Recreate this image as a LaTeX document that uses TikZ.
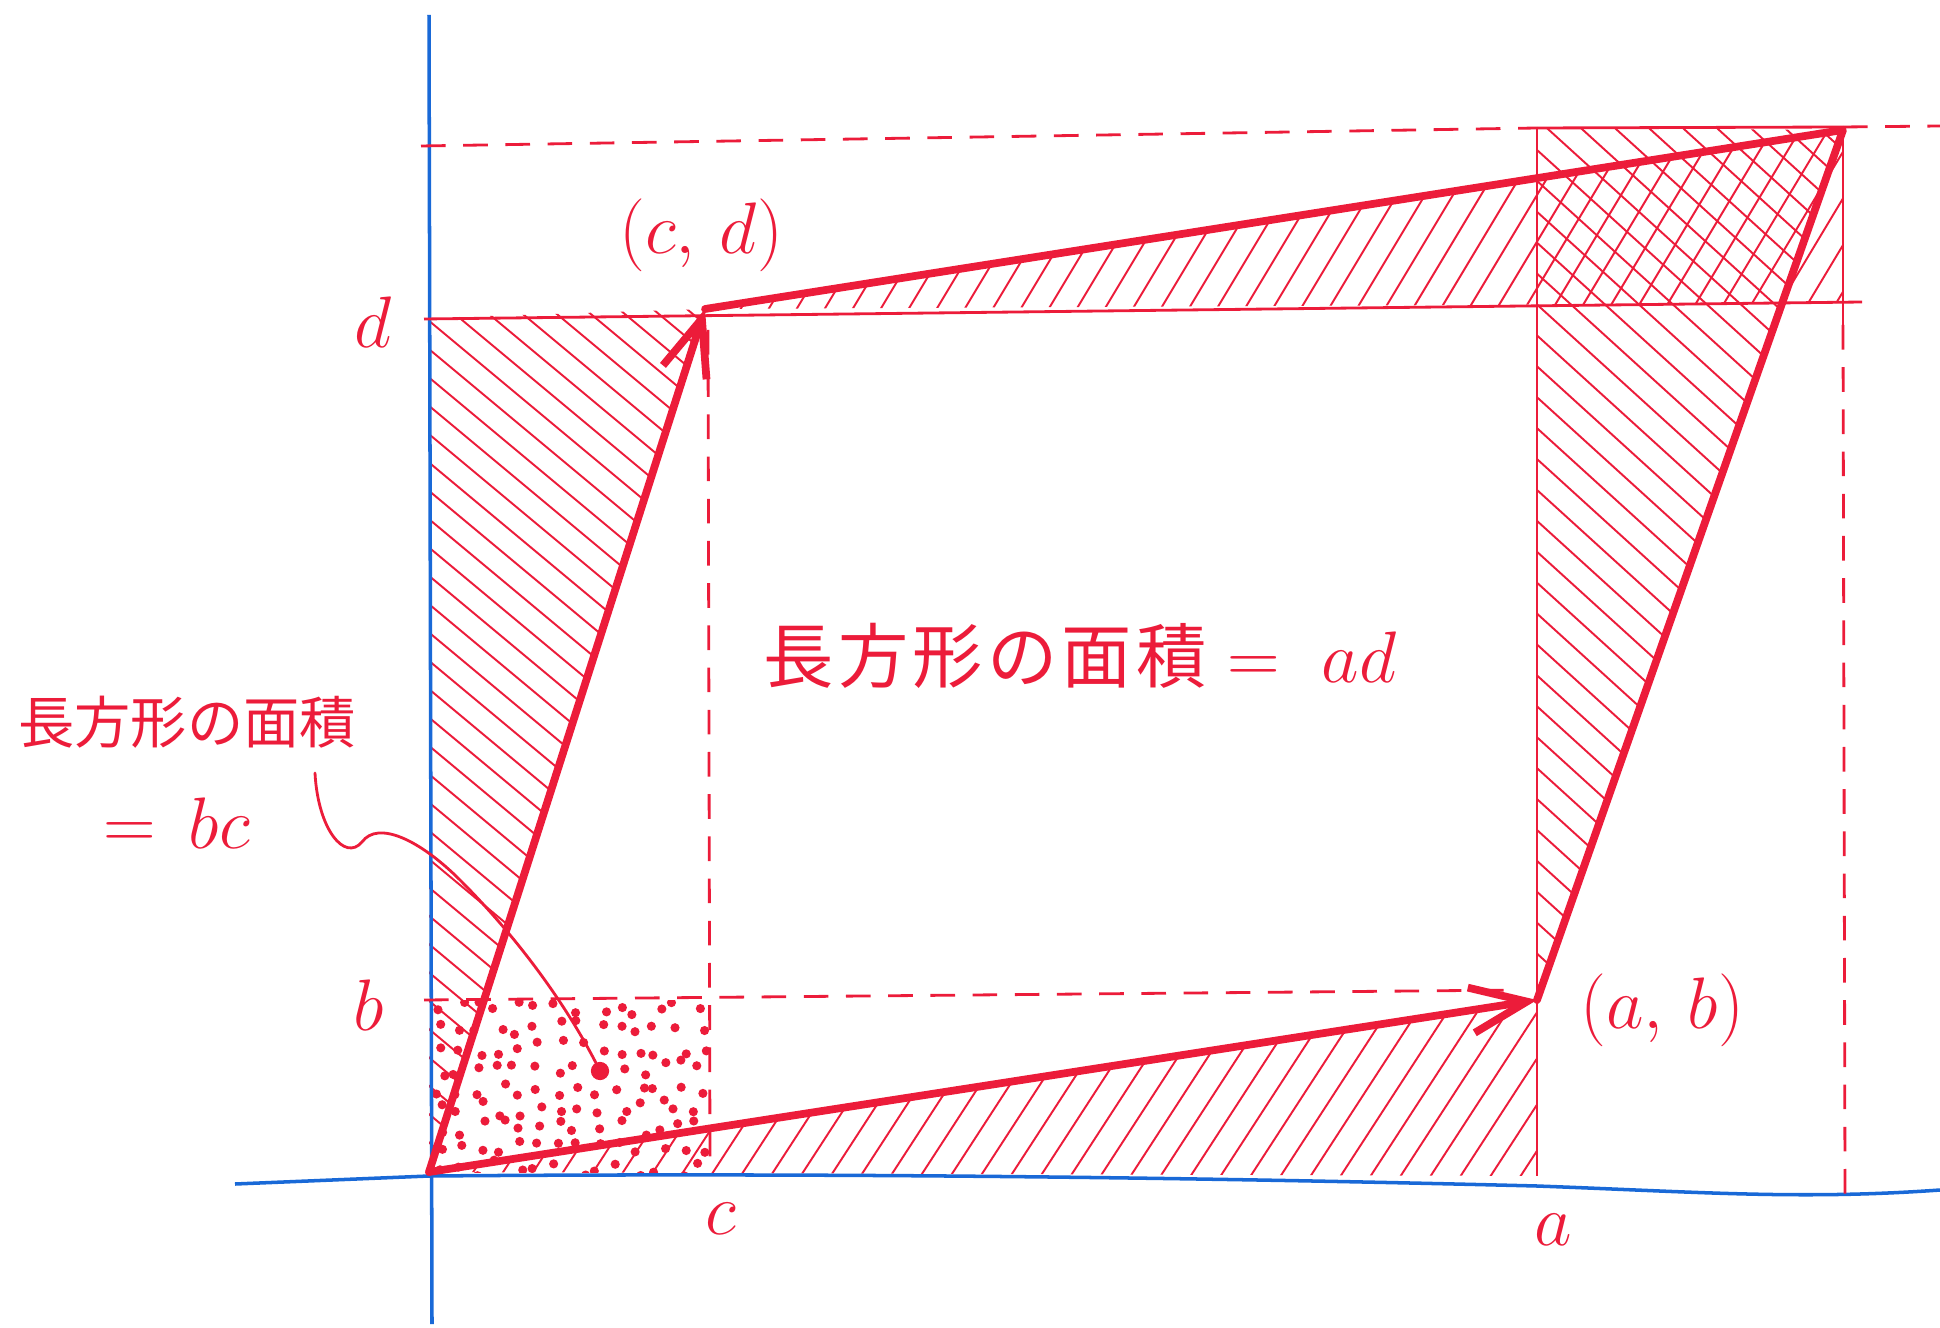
\documentclass[tikz,border=0pt]{standalone}
\usepackage{fontspec}
\newfontfamily\jp{Noto Sans CJK JP}
\usetikzlibrary{arrows.meta}
\definecolor{ink}{RGB}{236,28,58}
\definecolor{axisblue}{RGB}{25,105,215}
\tikzset{
  edge/.style={ink, line width=2.2pt, line cap=round, line join=round},
  tipped/.style={-{Straight Barb[length=16pt,width=13pt]}},
  guide/.style={ink, line width=0.8pt},
  guidedash/.style={ink, line width=0.8pt, dash pattern=on 7pt off 5pt},
  hatch/.style={ink, line width=0.55pt},
  axisline/.style={axisblue, line width=1pt, line join=round},
  lbl/.style={text=ink, font=\fontsize{20}{22}\selectfont, inner sep=0pt},
  biglbl/.style={text=ink, font=\fontsize{20}{22}\selectfont, inner sep=0pt},
  eqlbl/.style={text=ink, font=\fontsize{22}{24}\selectfont, inner sep=0pt},
  jplbl/.style={text=ink, font=\fontsize{16}{18}\selectfont\jp, inner sep=0pt},
}
\begin{document}
\begin{tikzpicture}[x=0.01cm,y=-0.01cm]
\useasboundingbox (0,0) rectangle (1940,1328);
% key points
\coordinate (O) at (429,1172);
\coordinate (P) at (1537,1000);
\coordinate (Q) at (705,309);
\coordinate (R) at (1843,130);
\coordinate (D0) at (429,318);
\coordinate (Atop) at (1537,128);
\coordinate (ACtop) at (1843,127);
\coordinate (ACd) at (1843,303);
\coordinate (A0) at (1537,1176);

% stipple in rectangle 0..c x 0..b
\begin{scope}
  \clip (429,1000) rectangle (710,1172);
  \pgfmathsetseed{7}
  \foreach \i in {0,...,13}{
    \foreach \j in {0,...,8}{
      \pgfmathsetmacro\xx{439+\i*20+rand*8}
      \pgfmathsetmacro\yy{1008+\j*20+rand*8}
      \fill[ink] (\xx,\yy) circle (1.3pt);
    }
  }
\end{scope}

% hatching T1 (left triangle)
\begin{scope}
  \clip (O) -- (D0) -- (Q) -- cycle;
  \foreach \t in {-770,-736,...,610}{\draw[hatch] (\t,200) -- ++(1200,1000);}
\end{scope}
% hatching T3 (right triangle)
\begin{scope}
  \clip (P) -- (R) -- (Atop) -- cycle;
  \foreach \t in {530,564,...,1830}{\draw[hatch] (\t,100) -- ++(1100,1000);}
\end{scope}
% hatching T2 (top triangle)
\begin{scope}
  \clip (Q) -- (R) -- (ACd) -- cycle;
  \foreach \t in {810,838,...,1980}{\draw[hatch] (\t,100) -- ++(-600,1000);}
\end{scope}
% hatching T4 (bottom triangle)
\begin{scope}
  \clip (O) -- (P) -- (A0) -- cycle;
  \foreach \t in {590,620,...,1730}{\draw[hatch] (\t,900) -- ++(-650,1000);}
\end{scope}

% axes
\draw[axisline] (429,15) -- (432,1324);
\draw[axisline] (235,1184) -- (429,1176) .. controls (900,1172) and (1300,1180) .. (1537,1186)
  .. controls (1700,1192) and (1800,1200) .. (1940,1190);

% guide lines
\draw[guidedash] (421,146) -- (Atop);
\draw[guide] (Atop) -- (ACtop);
\draw[guidedash] (ACtop) -- (1940,126);
\draw[guide] (424,319) -- (1862,302);
\draw[guide] (Atop) -- (A0);
\draw[guide] (ACtop) -- (1843,325);
\draw[guidedash] (1843,325) -- (1845,1195);
\draw[guidedash] (708,330) -- (710,1170);
\draw[guidedash] (424,1000) -- (1520,990);

% parallelogram edges
\draw[edge, tipped] (O) -- (Q);
\draw[edge, tipped] (O) -- (P);
\draw[edge] (Q) -- (R) -- (P);

% pointer
\coordinate (dot) at (600,1071);
\coordinate (ptr) at (315,773);
\fill[ink] (dot) circle (2.6pt);
\draw[guide, line cap=round] (ptr) .. controls (318,830) and (345,862) .. (362,842)
  .. controls (378,820) and (420,840) .. (460,880)
  .. controls (520,940) and (570,1010) .. (dot);

% labels
\node[lbl] (lcd) at (701,235) {$(c,\,d)$};
\node[lbl] (lab) at (1662,1010) {$(a,\,b)$};
\node[lbl] (ld) at (373,322) {$d$};
\node[lbl] (lb) at (369,1005) {$b$};
\node[lbl] (lc) at (721,1219) {$c$};
\node[lbl] (la) at (1553,1230) {$a$};
\node[biglbl] (big) at (1080,656) {{\jp\addfontfeature{LetterSpace=6}長方形の面積}\ $=\ ad$};
\node[jplbl] (small1) at (187,722) {長方形の面積};
\node[eqlbl] (small2) at (177,823) {$=\,bc$};
\end{tikzpicture}
\end{document}
